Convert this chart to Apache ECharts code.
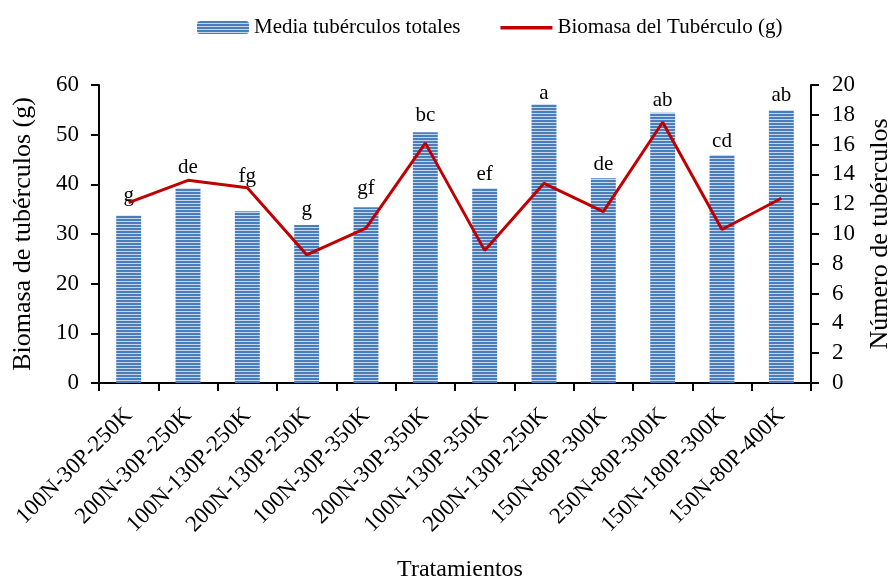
<!DOCTYPE html>
<html>
<head>
<meta charset="utf-8">
<script src="https://cdn.jsdelivr.net/npm/echarts@6/dist/echarts.min.js"></script>
<style>
html,body{margin:0;padding:0;background:#fff;}
#chart{width:892px;height:580px;}
</style>
</head>
<body>
<div id="chart"></div>
<script>
var categories = ['100N-30P-250K','200N-30P-250K','100N-130P-250K','200N-130P-250K','100N-30P-350K','200N-30P-350K','100N-130P-350K','200N-130P-250K','150N-80P-300K','250N-80P-300K','150N-180P-300K','150N-80P-400K'];
var barValues = [33.7, 39.2, 34.6, 31.8, 35.4, 50.5, 39.2, 56.1, 41.2, 54.4, 45.9, 54.9];
var lineValues = [12.1, 13.6, 13.1, 8.6, 10.4, 16.1, 8.9, 13.4, 11.5, 17.5, 10.3, 12.4];
var letters = ['g','de','fg','g','gf','bc','ef','a','de','ab','cd','ab'];
var leftTicks = {min: 0, max: 60, interval: 10};
var rightTicks = {min: 0, max: 20, interval: 2};
// gap (px) between each bar top and its letter, as placed in the original figure
var letterGap = [10, 10, 24, 5, 8, 6, 3, 0, 3, 2, 3, 4];

var pc = document.createElement('canvas');
pc.width = 4; pc.height = 3;
var pctx = pc.getContext('2d');
pctx.fillStyle = '#4a7ebb'; pctx.fillRect(0,0,4,2);
pctx.fillStyle = '#c4d5ec'; pctx.fillRect(0,2,4,1);
var pattern = {image: pc, repeat: 'repeat'};

var FONT = 'Liberation Serif';
var barData = barValues.map(function(v, i){
  return {value: v, label: {distance: letterGap[i]}};
});

var chart = echarts.init(document.getElementById('chart'));
chart.setOption({
  backgroundColor: '#fff',
  animation: false,
  legend: {
    top: 12, left: 192,
    itemWidth: 52, itemHeight: 13, itemGap: 40,
    textStyle: {fontFamily: FONT, fontSize: 21, color: '#000'},
    data: [
      {name: 'Media tubérculos totales', itemStyle: {color: pattern}},
      {name: 'Biomasa del Tubérculo (g)', icon: 'path://M0,0L0.01,0M0,5H52V8.5H0ZM0,13L0.01,13', itemStyle: {color: '#c00000'}}
    ]
  },
  grid: {left: 99, right: 81, top: 85, bottom: 197, containLabel: false, outerBoundsMode: 'none'},
  xAxis: {
    type: 'category', data: categories,
    axisLine: {lineStyle: {color: '#000', width: 2}},
    axisTick: {show: true, length: 8, alignWithLabel: false, lineStyle: {color: '#000', width: 2}},
    axisLabel: {rotate: 45, margin: 29, fontFamily: FONT, fontSize: 23, color: '#000', interval: 0},
    name: 'Tratamientos', nameLocation: 'middle', nameGap: 175,
    nameTextStyle: {fontFamily: FONT, fontSize: 24, color: '#000', padding: [0,0,0,10]}
  },
  yAxis: [{
    type: 'value', min: leftTicks.min, max: leftTicks.max, interval: leftTicks.interval,
    splitLine: {show: false},
    axisLine: {show: true, lineStyle: {color: '#000', width: 2}},
    axisTick: {show: true, length: 8, lineStyle: {color: '#000', width: 2}},
    axisLabel: {fontFamily: FONT, fontSize: 23, color: '#000', margin: 20},
    name: 'Biomasa de tubérculos (g)', nameLocation: 'middle', nameGap: 63,
    nameTextStyle: {fontFamily: FONT, fontSize: 26, color: '#000'}
  }, {
    type: 'value', min: rightTicks.min, max: rightTicks.max, interval: rightTicks.interval,
    splitLine: {show: false},
    axisLine: {show: true, lineStyle: {color: '#000', width: 2}},
    axisTick: {show: true, length: 8, lineStyle: {color: '#000', width: 2}},
    axisLabel: {fontFamily: FONT, fontSize: 23, color: '#000', margin: 21},
    name: 'Número de tubérculos', nameLocation: 'middle', nameGap: 56,
    nameTextStyle: {fontFamily: FONT, fontSize: 26, color: '#000'}
  }],
  series: [{
    name: 'Media tubérculos totales', type: 'bar', yAxisIndex: 0,
    data: barData, barWidth: '42%',
    itemStyle: {color: pattern},
    label: {
      show: true, position: 'top',
      fontFamily: FONT, fontSize: 21, color: '#000',
      formatter: function(p){ return letters[p.dataIndex]; }
    }
  }, {
    name: 'Biomasa del Tubérculo (g)', type: 'line', yAxisIndex: 1,
    data: lineValues, symbol: 'none',
    lineStyle: {color: '#c00000', width: 3},
    itemStyle: {color: '#c00000'}
  }]
});
</script>
</body>
</html>
